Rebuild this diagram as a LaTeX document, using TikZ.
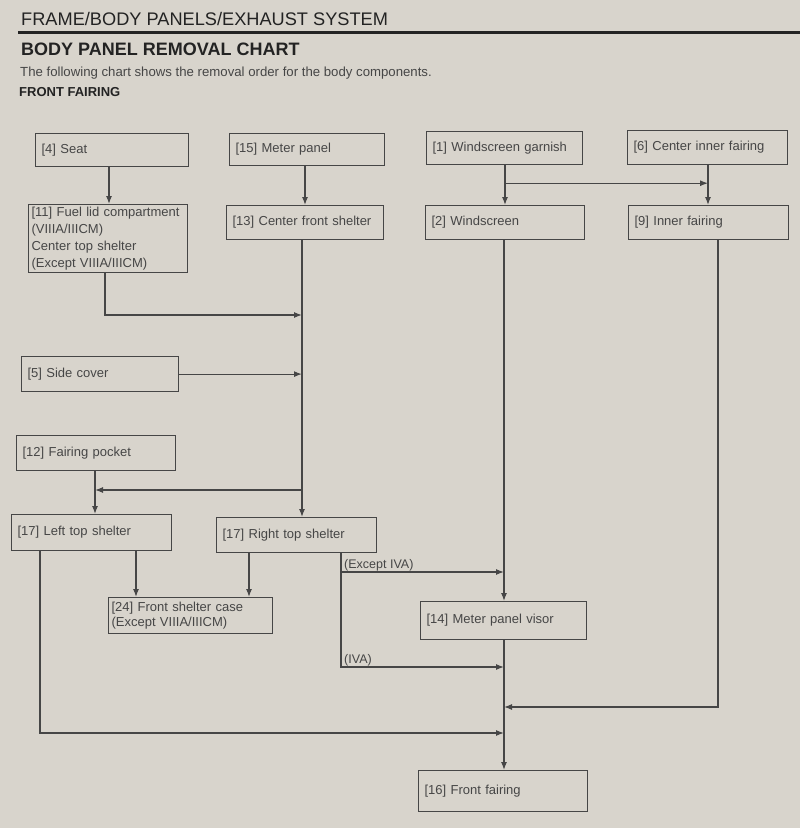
\documentclass[tikz,border=0pt]{standalone}
\usepackage{fontspec}
\setmainfont{Liberation Sans}
\usetikzlibrary{arrows.meta}
\definecolor{paper}{RGB}{216,212,204}
\definecolor{ink}{RGB}{70,70,70}
\definecolor{head}{RGB}{35,35,35}
\begin{document}
\begin{tikzpicture}[x=1pt,y=-1pt,
  box/.style={draw=ink, line width=1.2pt, rectangle, anchor=north west, inner xsep=6pt, inner ysep=3pt,
    align=left, text=ink, font=\fontsize{13}{16.5}\selectfont},
  conn/.style={draw=ink, line width=1.2pt},
  arr/.style={conn, -{Latex[length=8pt,width=6pt]}},
  lbl/.style={text=ink, font=\fontsize{12.5}{14}\selectfont, inner sep=1pt}]
\fill[paper] (0,0) rectangle (800,828);
\useasboundingbox (0,0) rectangle (800,828);
% header
\node[anchor=base west, text=head, font=\fontsize{18.2}{20}\selectfont, inner sep=0pt] (t1) at (21,25) {FRAME/BODY PANELS/EXHAUST SYSTEM};
\draw[head, line width=2.4pt] (18,32.5) -- (800,32.5);
\node[anchor=base west, text=head, font=\bfseries\fontsize{18}{20}\selectfont, inner sep=0pt] (t2) at (21,55) {BODY PANEL REMOVAL CHART};
\node[anchor=base west, text=ink, font=\fontsize{13.2}{15}\selectfont, inner sep=0pt] (t3) at (20,76) {The following chart shows the removal order for the body components.};
\node[anchor=base west, text=head, font=\bfseries\fontsize{13}{15}\selectfont, inner sep=0pt] (t4) at (19,96) {FRONT FAIRING};
% boxes
\node[box, text width=141pt, minimum height=33pt] (seat) at (35,133) {[4] Seat};
\node[box, text width=143pt, minimum height=32pt] (meter) at (229,133) {[15] Meter panel};
\node[box, text width=144pt, minimum height=33pt] (garn) at (426,131) {[1] Windscreen garnish};
\node[box, text width=148pt, minimum height=34pt] (cif) at (627,130) {[6] Center inner fairing};
\node[box, text width=153pt, minimum height=68pt, inner xsep=3pt, inner ysep=1pt, font=\fontsize{13}{17}\selectfont] (fuel) at (28,204) {[11] Fuel lid compartment\\(VIIIA/IIICM)\\Center top shelter\\(Except VIIIA/IIICM)};
\node[box, text width=145pt, minimum height=34pt] (cfs) at (226,205) {[13] Center front shelter};
\node[box, text width=147pt, minimum height=34pt] (wind) at (425,205) {[2] Windscreen};
\node[box, text width=148pt, minimum height=34pt] (inner) at (628,205) {[9] Inner fairing};
\node[box, text width=145pt, minimum height=35pt] (side) at (21,356) {[5] Side cover};
\node[box, text width=147pt, minimum height=35pt] (pocket) at (16,435) {[12] Fairing pocket};
\node[box, text width=148pt, minimum height=36pt] (lts) at (11,514) {[17] Left top shelter};
\node[box, text width=148pt, minimum height=35pt] (rts) at (216,517) {[17] Right top shelter};
\node[box, text width=158pt, minimum height=36pt, inner xsep=3pt, inner ysep=1pt, font=\fontsize{13}{15.5}\selectfont] (fsc) at (108,597) {[24] Front shelter case\\(Except VIIIA/IIICM)};
\node[box, text width=154pt, minimum height=38pt] (mpv) at (420,601) {[14] Meter panel visor};
\node[box, text width=157pt, minimum height=41pt] (ff) at (418,770) {[16] Front fairing};
% connector points
\coordinate (s1) at ([xshift=74pt]seat.south west);
\coordinate (m1) at ([xshift=76pt]meter.south west);
\coordinate (g1) at ([xshift=79pt]garn.south west);
\coordinate (c1) at ([xshift=81pt]cif.south west);
\coordinate (f1) at ([xshift=77pt]fuel.south west);
\coordinate (v)  at ([xshift=76pt]cfs.south west);
\coordinate (p1) at ([xshift=79pt]pocket.south west);
\coordinate (l1) at ([xshift=125pt]lts.south west);
\coordinate (l2) at ([xshift=29pt]lts.south west);
\coordinate (r1) at ([xshift=33pt]rts.south west);
\coordinate (r2) at ([xshift=125pt]rts.south west);
\coordinate (mv) at ([xshift=79pt]wind.south west);
\coordinate (i1) at ([xshift=90pt]inner.south west);
\coordinate (jb) at ([yshift=-18pt]g1);
\coordinate (jf) at (f1 |- 0,315);
\coordinate (jp) at (v |- 0,490);
\coordinate (jl) at (l2 |- 0,733);
\coordinate (je) at (r2 |- 0,572);
\coordinate (ji) at (r2 |- 0,667);
\coordinate (jn) at (i1 |- 0,707);
% connectors
\draw[arr] (s1) -- (s1 |- fuel.north);
\draw[arr] (m1) -- (m1 |- cfs.north);
\draw[arr] (g1) -- (g1 |- wind.north);
\draw[arr] (jb) -- (c1 |- jb);
\draw[arr] (c1) -- (c1 |- inner.north);
\draw[arr] (f1) -- (jf) -- (v |- jf);
\draw[arr] (v) -- (v |- rts.north);
\draw[arr] (side.east) -- (v |- side.east);
\draw[arr] (jp) -- (p1 |- jp);
\draw[arr] (p1) -- (p1 |- lts.north);
\draw[arr] (l1) -- (l1 |- fsc.north);
\draw[arr] (r1) -- (r1 |- fsc.north);
\draw[arr] (l2) -- (jl) -- (mv |- jl);
\draw[arr] (r2) -- (ji) -- (mv |- ji);
\draw[arr] (je) -- (mv |- je);
\draw[arr] (mv) -- (mv |- mpv.north);
\draw[arr] (mv |- mpv.south) -- (mv |- ff.north);
\draw[arr] (i1) -- (jn) -- (mv |- jn);
% labels
\node[lbl, anchor=south west] (lex) at ([xshift=2pt]je) {(Except IVA)};
\node[lbl, anchor=south west] (liv) at ([xshift=2pt]ji) {(IVA)};
\end{tikzpicture}
\end{document}
